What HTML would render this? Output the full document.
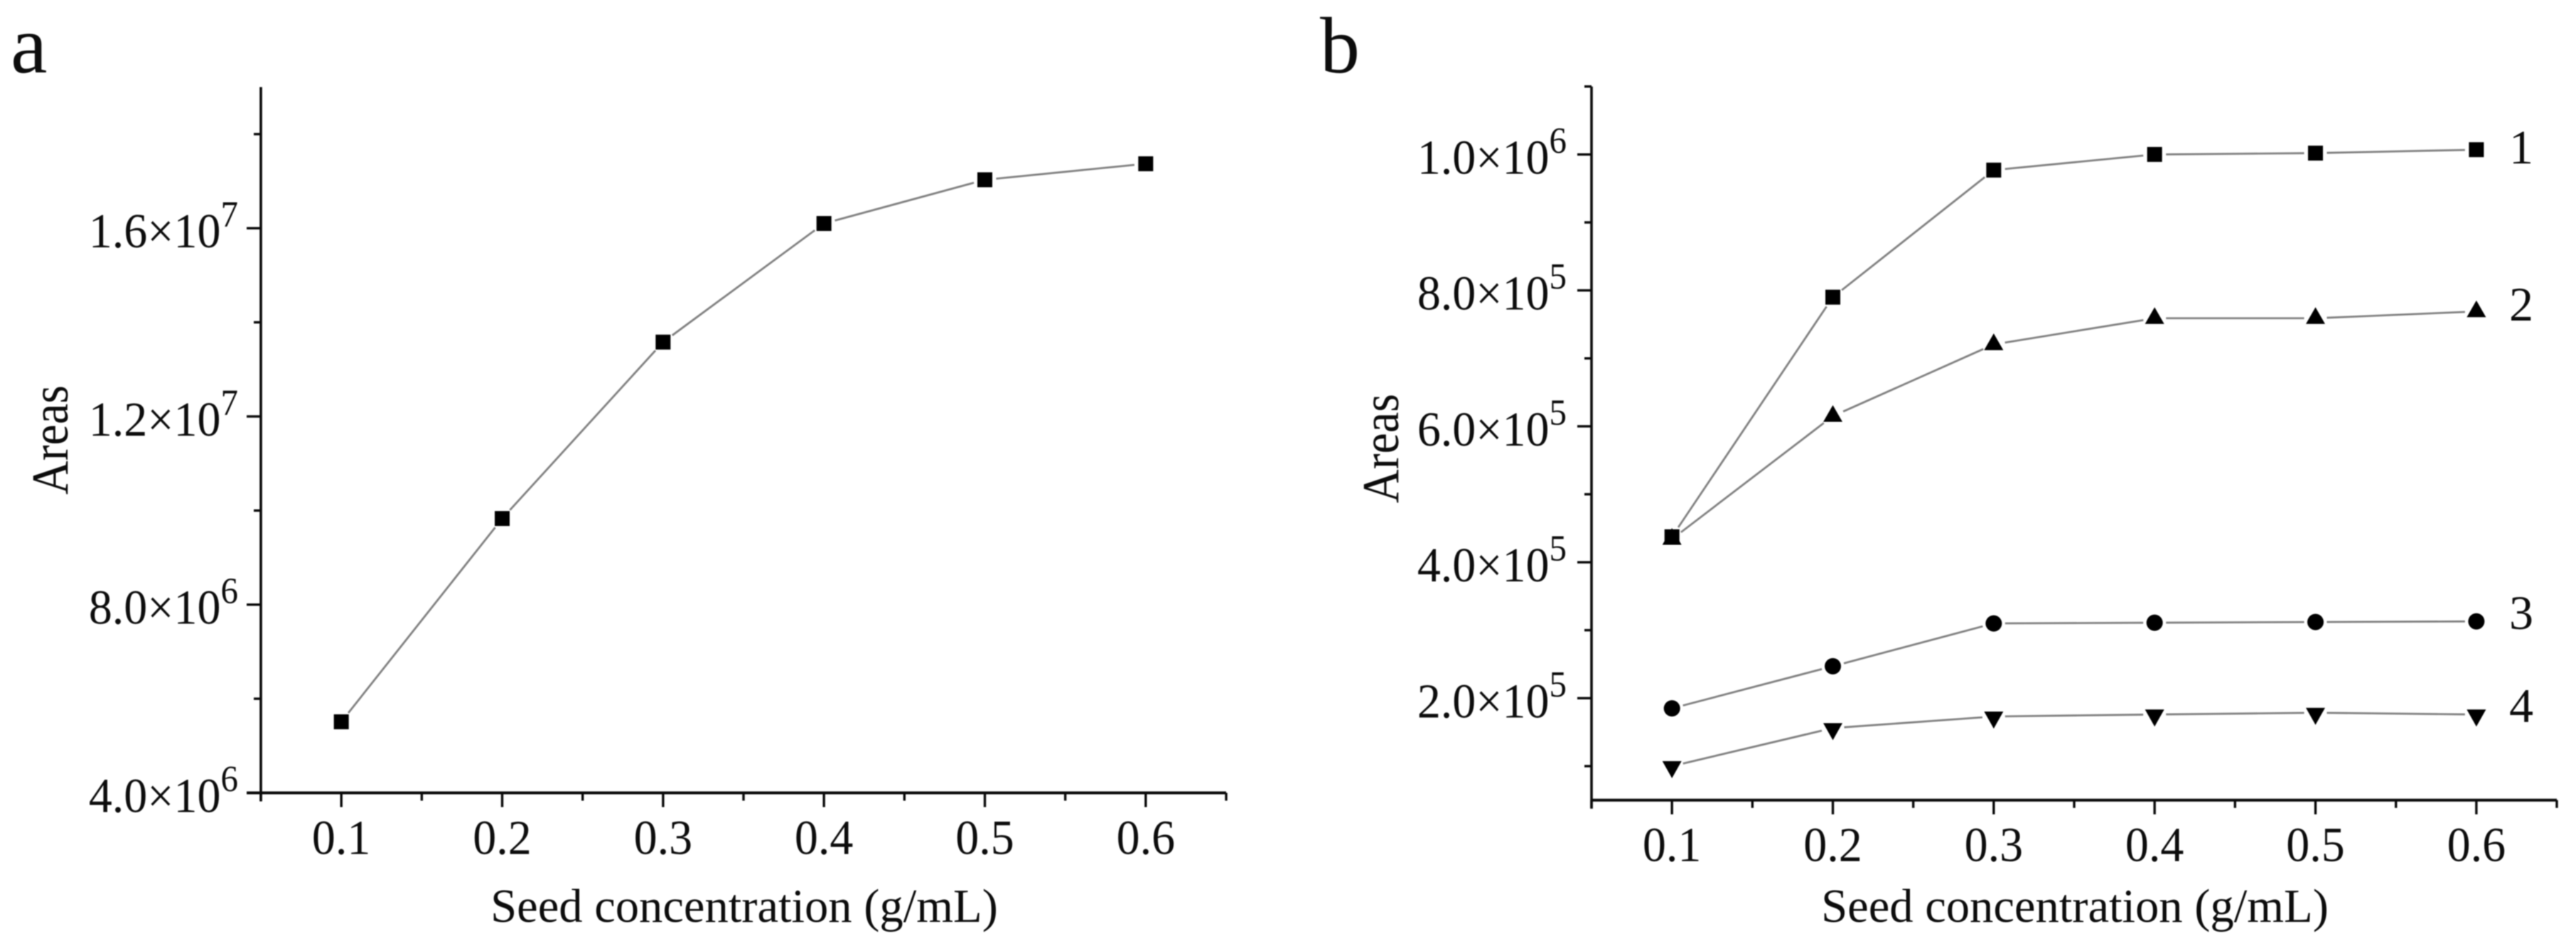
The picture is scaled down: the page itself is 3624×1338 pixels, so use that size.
<!DOCTYPE html>
<html>
<head>
<meta charset="utf-8">
<title>Areas vs seed concentration</title>
<style>
html,body{margin:0;padding:0;background:#fff;}
svg{display:block;filter:blur(0.7px);}
text{font-family:"Liberation Serif",serif;fill:#0c0c0c;}
</style>
</head>
<body>
<svg id="figure" xmlns="http://www.w3.org/2000/svg" width="3624" height="1338" viewBox="0 0 3624 1338">
  <rect width="3624" height="1338" fill="#fff"/>
  <text x="15" y="102" font-size="116">a</text>
  <text x="1857" y="102" font-size="112">b</text>
  <g id="panel-a"></g>
  <g id="panel-b"></g>
</svg>
<script>
// Shared x axis
const concentrations = [0.1, 0.2, 0.3, 0.4, 0.5, 0.6];
const xMajorTicks = [0.1, 0.2, 0.3, 0.4, 0.5, 0.6];
const xTickLabels = ['0.1', '0.2', '0.3', '0.4', '0.5', '0.6'];
const xMinorTicks = [0.05, 0.15, 0.25, 0.35, 0.45, 0.55, 0.65];

// Panel a
const areasA = [5.51e6, 9.83e6, 13.58e6, 16.1e6, 17.03e6, 17.37e6];
const yMajorTicksA = [4e6, 8e6, 1.2e7, 1.6e7];
const yTickMantissaA = ['4.0', '8.0', '1.2', '1.6'];
const yTickExponentA = ['6', '6', '7', '7'];
const yMinorTicksA = [6e6, 1e7, 1.4e7, 1.8e7];

// Panel b
const areasB1 = [437500, 790000, 977000, 1000000, 1002000, 1007000];
const areasB2 = [434000, 615000, 720500, 759000, 759000, 769000];
const areasB3 = [185000, 247000, 310000, 311000, 312000, 313000];
const areasB4 = [100000, 156000, 173000, 176000, 178500, 176000];
const yMajorTicksB = [2e5, 4e5, 6e5, 8e5, 1e6];
const yTickMantissaB = ['2.0', '4.0', '6.0', '8.0', '1.0'];
const yTickExponentB = ['5', '5', '5', '5', '6'];
const yMinorTicksB = [1e5, 3e5, 5e5, 7e5, 9e5, 1.1e6];

const NS = 'http://www.w3.org/2000/svg';
const AXIS_COLOR = '#0a0a0a';
const LINE_COLOR = '#808080';

function make(parent, tag, attrs, name) {
  const el = document.createElementNS(NS, tag);
  for (const k in attrs) el.setAttribute(k, attrs[k]);
  
  
  parent.appendChild(el);
  return el;
}

function drawMarker(g, shape, cx, cy, name) {
  if (shape === 'square') {
    make(g, 'rect', {x: cx - 10.5, y: cy - 10.5, width: 21, height: 21, fill: '#000'}, name);
  } else if (shape === 'circle') {
    make(g, 'circle', {cx: cx, cy: cy, r: 11.5, fill: '#000'}, name);
  } else if (shape === 'up') {
    make(g, 'polygon', {points: (cx - 13.5) + ',' + (cy + 8) + ' ' + (cx + 13.5) + ',' + (cy + 8) + ' ' + cx + ',' + (cy - 15.5), fill: '#000'}, name);
  } else {
    make(g, 'polygon', {points: (cx - 13.5) + ',' + (cy - 7) + ' ' + (cx + 13.5) + ',' + (cy - 7) + ' ' + cx + ',' + (cy + 17), fill: '#000'}, name);
  }
}

function drawPanel(p) {
  const root = document.getElementById(p.id);
  const xOf = v => p.x0 + (v - p.xMin) / (p.xMax - p.xMin) * (p.x1 - p.x0);
  const yOf = v => p.yBottom + (v - p.yMin) / (p.yMax - p.yMin) * (p.yTop - p.yBottom);
  const axisLeft = xOf(p.xMin);
  const axisBottom = yOf(p.yMin);

  // axes
  make(root, 'line', {x1: axisLeft, y1: yOf(p.yMax), x2: axisLeft, y2: axisBottom + 12, stroke: AXIS_COLOR, 'stroke-width': 3.6}, 'y-axis-line');
  make(root, 'line', {x1: axisLeft - (p.bottomTick ? 20 : 0), y1: axisBottom, x2: xOf(p.xMax), y2: axisBottom, stroke: AXIS_COLOR, 'stroke-width': 4}, 'x-axis-line');

  // x ticks
  xMajorTicks.forEach((v, i) => {
    make(root, 'line', {x1: xOf(v), y1: axisBottom, x2: xOf(v), y2: axisBottom + 20, stroke: AXIS_COLOR, 'stroke-width': 3.4}, 'x-major-tick');
    make(root, 'text', {transform: 'translate(' + xOf(v) + ',' + (axisBottom + 86) + ') scale(1,1.05)', 'font-size': 66, 'text-anchor': 'middle'}, 'x-tick-label').textContent = xTickLabels[i];
  });
  xMinorTicks.forEach(v => {
    make(root, 'line', {x1: xOf(v), y1: axisBottom, x2: xOf(v), y2: axisBottom + 11, stroke: AXIS_COLOR, 'stroke-width': 3.4}, 'x-minor-tick');
  });

  // y ticks
  p.yMajor.forEach((v, i) => {
    const y = yOf(v);
    make(root, 'line', {x1: axisLeft - 20, y1: y, x2: axisLeft, y2: y, stroke: AXIS_COLOR, 'stroke-width': 3.4}, 'y-major-tick');
    const t = make(root, 'text', {transform: 'translate(' + p.labelRight + ',' + (y + 27) + ') scale(1,1.05)', 'font-size': 66, 'text-anchor': 'end'}, 'y-tick-label');
    const a = document.createElementNS(NS, 'tspan');
    a.textContent = p.mantissa[i] + '\u00d710';
    t.appendChild(a);
    const b = document.createElementNS(NS, 'tspan');
    b.setAttribute('dy', '-28');
    b.setAttribute('font-size', '49');
    b.textContent = p.exponent[i];
    t.appendChild(b);
  });
  p.yMinor.forEach(v => {
    const y = yOf(v);
    make(root, 'line', {x1: axisLeft - 10, y1: y, x2: axisLeft, y2: y, stroke: AXIS_COLOR, 'stroke-width': 3.4}, 'y-minor-tick');
  });

  // axis titles
  make(root, 'text', {x: p.xTitleX, y: 1297, 'font-size': 66.6, 'text-anchor': 'middle'}, 'x-axis-title').textContent = 'Seed concentration (g/mL)';
  make(root, 'text', {transform: 'translate(' + p.yTitleX + ',' + p.yTitleY + ') rotate(-90) scale(1,1.1)', 'font-size': 66, 'text-anchor': 'middle'}, 'y-axis-title').textContent = 'Areas';

  // series (segments stop short of the markers)
  p.series.forEach(s => {
    const g = make(root, 'g', {}, s.name);
    const pts = concentrations.map((c, i) => [xOf(c), yOf(s.values[i])]);
    for (let i = 0; i < pts.length - 1; i++) {
      const dx = pts[i + 1][0] - pts[i][0];
      const dy = pts[i + 1][1] - pts[i][1];
      const len = Math.hypot(dx, dy);
      const ux = dx / len, uy = dy / len;
      const gap = 16;
      make(g, 'line', {
        x1: pts[i][0] + ux * gap, y1: pts[i][1] + uy * gap,
        x2: pts[i + 1][0] - ux * gap, y2: pts[i + 1][1] - uy * gap,
        stroke: LINE_COLOR, 'stroke-width': 2.8
      }, 'series-segment');
    }
    pts.forEach(pt => drawMarker(g, s.shape, pt[0], pt[1], 'data-point'));
    if (s.tag) {
      make(g, 'text', {x: p.tagX, y: s.tagY, 'font-size': 68, 'text-anchor': 'middle'}, 'series-label').textContent = s.tag;
    }
  });
}

drawPanel({
  id: 'panel-a',
  x0: 367, x1: 1725, xMin: 0.05, xMax: 0.65,
  yBottom: 1115.5, yTop: 122.5, yMin: 4e6, yMax: 1.9e7,
  bottomTick: true,
  yMajor: yMajorTicksA, yMinor: yMinorTicksA,
  mantissa: yTickMantissaA, exponent: yTickExponentA,
  labelRight: 335, xTitleX: 1047, yTitleX: 95, yTitleY: 619,
  series: [{name: 'series-a', shape: 'square', values: areasA}]
});

drawPanel({
  id: 'panel-b',
  x0: 2239, x1: 3597, xMin: 0.05, xMax: 0.65,
  yBottom: 1125.7, yTop: 121.7, yMin: 5e4, yMax: 1.1e6,
  bottomTick: false,
  yMajor: yMajorTicksB, yMinor: yMinorTicksB,
  mantissa: yTickMantissaB, exponent: yTickExponentB,
  labelRight: 2204, xTitleX: 2919, yTitleX: 1967, yTitleY: 631,
  tagX: 3547,
  series: [
    {name: 'series-2', shape: 'up', values: areasB2, tag: '2', tagY: 451},
    {name: 'series-1', shape: 'square', values: areasB1, tag: '1', tagY: 230},
    {name: 'series-3', shape: 'circle', values: areasB3, tag: '3', tagY: 885},
    {name: 'series-4', shape: 'down', values: areasB4, tag: '4', tagY: 1016}
  ]
});
</script>
</body>
</html>
